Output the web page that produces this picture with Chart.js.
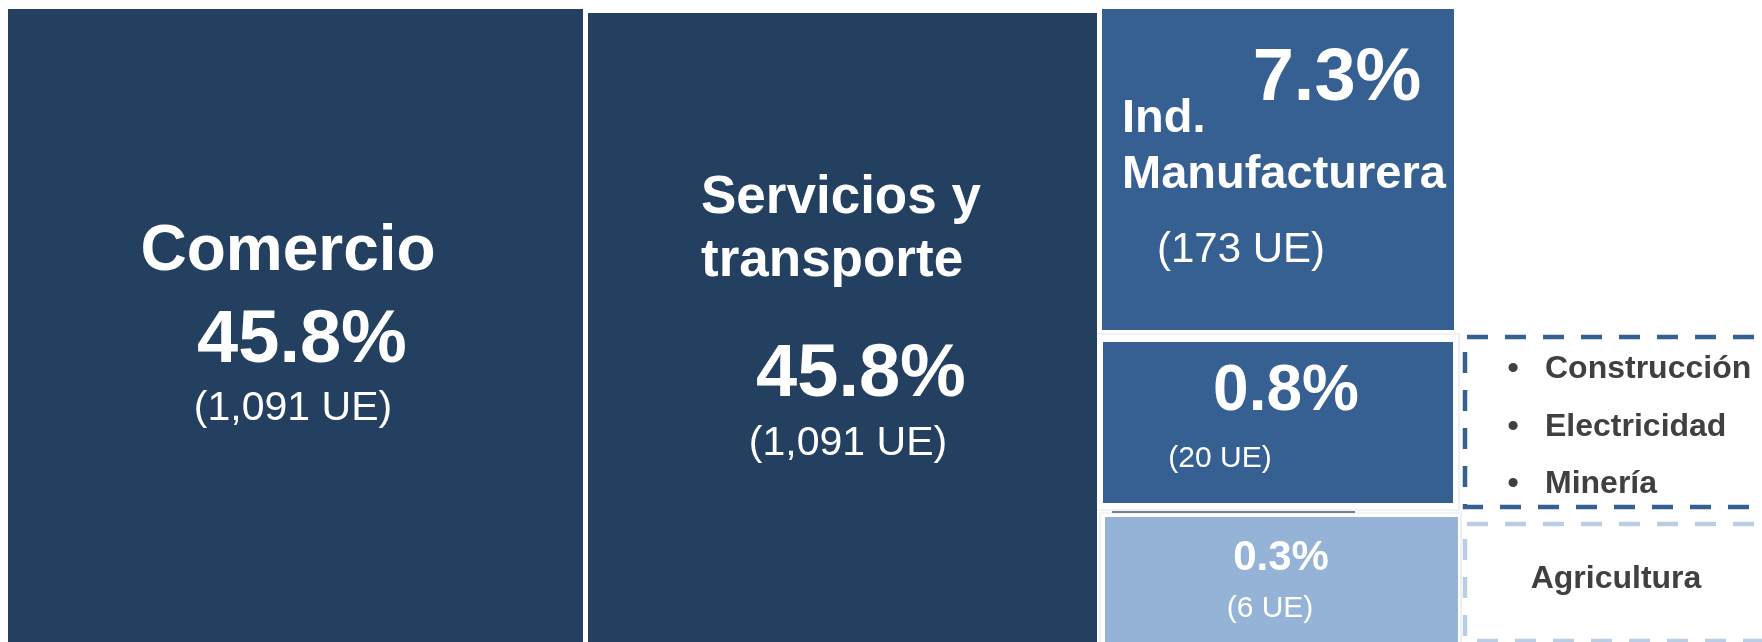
<!DOCTYPE html>
<html>
<head>
<meta charset="utf-8">
<script src="https://cdn.jsdelivr.net/npm/chart.js@4.4.1/dist/chart.umd.min.js"></script>
<style>
  html, body { margin:0; padding:0; background:#fff; }
  #wrap { width:1762px; height:642px; position:relative; }
</style>
</head>
<body>
<div id="wrap"><canvas id="tree"></canvas></div>
<script>
// Data
const sectors = ['Comercio', 'Servicios y transporte', 'Ind. Manufacturera', 'Construcción, Electricidad y Minería', 'Agricultura'];
const shares = [45.8, 45.8, 7.3, 0.8, 0.3];
const units = [1091, 1091, 173, 20, 6];
const groupedSectors = ['Construcción', 'Electricidad', 'Minería'];

// Layout, in chart units (the axes run 0..1762 and 0..642)
const W = 1762, H = 642;
const tileBoxes = [
  [8, 9, 583, 660],
  [588, 13, 1097, 660],
  [1102, 9, 1454, 330],
  [1103, 342, 1453, 503],
  [1105, 517, 1458, 660]
];
const frameBoxes = [
  [1096, 334, 1459, 510],
  [1100, 513, 1461, 660]
];
const tileColors = ['#244061', '#244061', '#376092', '#376092', '#95b3d7'];
const nameBreak = [null, 2, 1]; // word index where the name wraps

const labelSpots = [
  {name:{x:288, y:270, size:64, align:'center'}, share:{x:302, y:362, size:74}, units:{x:293, y:420, size:41}},
  {name:{x:701, y:213, size:53, align:'left', lead:63}, share:{x:861, y:396, size:74}, units:{x:848, y:455, size:41}},
  {name:{x:1122, y:132, size:47, align:'left', lead:56}, share:{x:1337, y:100, size:74}, units:{x:1241, y:262, size:42}},
  {share:{x:1286, y:410, size:64}, units:{x:1220, y:467, size:30}},
  {share:{x:1281, y:570, size:42}, units:{x:1270, y:617, size:30}}
];

const sideBoxes = [
  {x:1465, y0:337, y1:507, color:'#376092'},
  {x:1465, y0:524, y1:641, color:'#b9cde5'}
];
const listSpot = {bulletX:1513, textX:1545, y:378, lead:57.5, size:32};
const agriSpot = {x:1616, y:588, size:32};

const FONT = '"Liberation Sans", Arial, Helvetica, sans-serif';

function rect(b){
  return [{x:b[0],y:b[1]},{x:b[2],y:b[1]},{x:b[2],y:b[3]},{x:b[0],y:b[3]},{x:b[0],y:b[1]}];
}

const datasets = [];
tileBoxes.forEach((b, i)=>{
  datasets.push({
    label: sectors[i],
    data: rect(b),
    borderColor: 'transparent',
    borderWidth: 0,
    backgroundColor: tileColors[i],
    fill: 'shape',
    pointRadius: 0,
    tension: 0
  });
});
sideBoxes.forEach(s=>{
  datasets.push({
    label: 'box',
    data: [{x:W+30,y:s.y0},{x:s.x,y:s.y0},{x:s.x,y:s.y1},{x:W+30,y:s.y1}],
    borderColor: s.color,
    borderWidth: 4.5,
    borderDash: [21, 17],
    fill: false,
    pointRadius: 0
  });
});
// small stray rule under the 0.8% box
datasets.push({
  label: 'rule',
  data: [{x:1112,y:512},{x:1355,y:512}],
  borderColor: '#4a5a70',
  borderWidth: 1.5,
  fill: false,
  pointRadius: 0
});
frameBoxes.forEach(b=>{
  datasets.push({
    label: 'frame',
    data: rect(b),
    borderColor: '#e2e5ea',
    borderWidth: 1.2,
    backgroundColor: '#ffffff',
    fill: 'shape',
    pointRadius: 0
  });
});

const labelsPlugin = {
  id: 'tileLabels',
  afterDatasetsDraw(chart){
    const {ctx, scales:{x, y}} = chart;
    const px = v => x.getPixelForValue(v);
    const py = v => y.getPixelForValue(v);
    ctx.save();
    ctx.textBaseline = 'alphabetic';
    ctx.fillStyle = '#ffffff';
    labelSpots.forEach((spot, i)=>{
      if(spot.name){
        const words = sectors[i].split(' ');
        const lines = nameBreak[i] ? [words.slice(0, nameBreak[i]).join(' '), words.slice(nameBreak[i]).join(' ')] : [sectors[i]];
        ctx.font = `bold ${spot.name.size}px ${FONT}`;
        ctx.textAlign = spot.name.align;
        lines.forEach((ln, k)=>ctx.fillText(ln, px(spot.name.x), py(spot.name.y + k*(spot.name.lead||0))));
      }
      ctx.textAlign = 'center';
      ctx.font = `bold ${spot.share.size}px ${FONT}`;
      ctx.fillText(shares[i].toFixed(1) + '%', px(spot.share.x), py(spot.share.y));
      ctx.font = `${spot.units.size}px ${FONT}`;
      ctx.fillText('(' + units[i].toLocaleString('en-US') + ' UE)', px(spot.units.x), py(spot.units.y));
    });
    ctx.fillStyle = '#404040';
    ctx.font = `bold ${listSpot.size}px ${FONT}`;
    groupedSectors.forEach((s, k)=>{
      const yy = py(listSpot.y + k*listSpot.lead);
      ctx.textAlign = 'center';
      ctx.fillText('•', px(listSpot.bulletX), yy);
      ctx.textAlign = 'left';
      ctx.fillText(s, px(listSpot.textX), yy);
    });
    ctx.textAlign = 'center';
    ctx.font = `bold ${agriSpot.size}px ${FONT}`;
    ctx.fillText(sectors[4], px(agriSpot.x), py(agriSpot.y));
    ctx.restore();
  }
};

new Chart(document.getElementById('tree'), {
  type: 'line',
  data: { datasets },
  options: {
    responsive: true,
    maintainAspectRatio: false,
    animation: false,
    layout: { padding: 0 },
    scales: {
      x: { type:'linear', min:0, max:W, display:false },
      y: { type:'linear', min:0, max:H, reverse:true, display:false }
    },
    plugins: {
      legend: { display:false },
      tooltip: { enabled:false }
    }
  },
  plugins: [labelsPlugin]
});
</script>
</body>
</html>
